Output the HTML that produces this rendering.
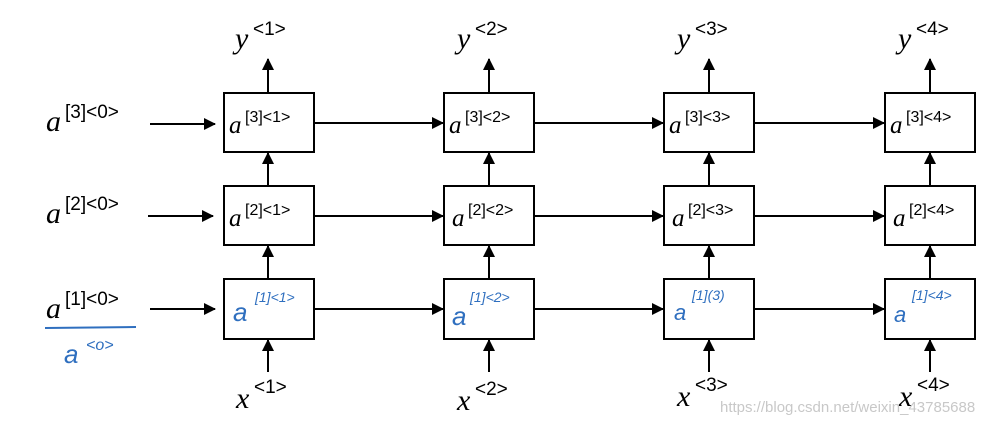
<!DOCTYPE html>
<html><head><meta charset="utf-8"><style>
html,body{margin:0;padding:0;background:#fff;width:1000px;height:424px;overflow:hidden}
.a{font-family:"Liberation Serif",serif;font-style:italic;font-size:30px}
.b{font-family:"Liberation Serif",serif;font-style:italic;font-size:25px}
.s{font-family:"Liberation Sans",sans-serif;font-size:19px}
.t{font-family:"Liberation Sans",sans-serif;font-size:16px}
.h{fill:#2f6fbf;font-family:"Liberation Sans",sans-serif;font-style:italic}
</style></head><body>
<svg width="1000" height="424" viewBox="0 0 1000 424" xmlns="http://www.w3.org/2000/svg">
<defs><marker id="m" markerWidth="12" markerHeight="12" refX="11" refY="6" orient="auto" markerUnits="userSpaceOnUse"><path d="M0,0 L12,6 L0,12 z" fill="#000"/></marker></defs>
<g stroke="#000" stroke-width="2" fill="none">
<rect x="224" y="93" width="90" height="59"/><rect x="224" y="186" width="90" height="59"/><rect x="224" y="279" width="90" height="60"/>
<rect x="444" y="93" width="90" height="59"/><rect x="444" y="186" width="90" height="59"/><rect x="444" y="279" width="90" height="60"/>
<rect x="664" y="93" width="90" height="59"/><rect x="664" y="186" width="90" height="59"/><rect x="664" y="279" width="90" height="60"/>
<rect x="885" y="93" width="90" height="59"/><rect x="885" y="186" width="90" height="59"/><rect x="885" y="279" width="90" height="60"/>
</g>
<g stroke="#000" stroke-width="2" marker-end="url(#m)">
<line x1="150" y1="124" x2="215" y2="124"/><line x1="148" y1="216" x2="213" y2="216"/><line x1="150" y1="309" x2="215" y2="309"/>
<line x1="314" y1="123" x2="443" y2="123"/><line x1="534" y1="123" x2="663" y2="123"/><line x1="754" y1="123" x2="884" y2="123"/>
<line x1="314" y1="216" x2="443" y2="216"/><line x1="534" y1="216" x2="663" y2="216"/><line x1="754" y1="216" x2="884" y2="216"/>
<line x1="314" y1="309" x2="443" y2="309"/><line x1="534" y1="309" x2="663" y2="309"/><line x1="754" y1="309" x2="884" y2="309"/>
<line x1="268" y1="93" x2="268" y2="59"/><line x1="489" y1="93" x2="489" y2="59"/><line x1="709" y1="93" x2="709" y2="59"/><line x1="930" y1="93" x2="930" y2="59"/>
<line x1="268" y1="186" x2="268" y2="153"/><line x1="489" y1="186" x2="489" y2="153"/><line x1="709" y1="186" x2="709" y2="153"/><line x1="930" y1="186" x2="930" y2="153"/>
<line x1="268" y1="279" x2="268" y2="246"/><line x1="489" y1="279" x2="489" y2="246"/><line x1="709" y1="279" x2="709" y2="246"/><line x1="930" y1="279" x2="930" y2="246"/>
<line x1="268" y1="372" x2="268" y2="340"/><line x1="489" y1="372" x2="489" y2="340"/><line x1="709" y1="372" x2="709" y2="340"/><line x1="930" y1="372" x2="930" y2="340"/>
</g>
<g>
<text x="235" y="48" class="a">y</text><text x="253" y="35" class="s">&lt;1&gt;</text>
<text x="457" y="48" class="a">y</text><text x="475" y="35" class="s">&lt;2&gt;</text>
<text x="677" y="48" class="a">y</text><text x="695" y="35" class="s">&lt;3&gt;</text>
<text x="898" y="48" class="a">y</text><text x="916" y="35" class="s">&lt;4&gt;</text>
<text x="46" y="131" class="a">a</text><text x="65" y="118" class="s">[3]&lt;0&gt;</text>
<text x="46" y="223" class="a">a</text><text x="65" y="210" class="s">[2]&lt;0&gt;</text>
<text x="46" y="318" class="a">a</text><text x="65" y="305" class="s">[1]&lt;0&gt;</text>
<text x="229" y="133" class="b">a</text><text x="245" y="122" class="t">[3]&lt;1&gt;</text>
<text x="449" y="133" class="b">a</text><text x="465" y="122" class="t">[3]&lt;2&gt;</text>
<text x="669" y="133" class="b">a</text><text x="685" y="122" class="t">[3]&lt;3&gt;</text>
<text x="890" y="133" class="b">a</text><text x="906" y="122" class="t">[3]&lt;4&gt;</text>
<text x="229" y="226" class="b">a</text><text x="245" y="215" class="t">[2]&lt;1&gt;</text>
<text x="452" y="226" class="b">a</text><text x="468" y="215" class="t">[2]&lt;2&gt;</text>
<text x="672" y="226" class="b">a</text><text x="688" y="215" class="t">[2]&lt;3&gt;</text>
<text x="893" y="226" class="b">a</text><text x="909" y="215" class="t">[2]&lt;4&gt;</text>
<text x="233" y="321" class="h" style="font-size:26px">a</text><text x="255" y="302" class="h" style="font-size:14px">[1]&lt;1&gt;</text>
<text x="452" y="325" class="h" style="font-size:26px">a</text><text x="470" y="302" class="h" style="font-size:14px">[1]&lt;2&gt;</text>
<text x="674" y="320" class="h" style="font-size:22px">a</text><text x="692" y="300" class="h" style="font-size:14px">[1](3)</text>
<text x="894" y="322" class="h" style="font-size:22px">a</text><text x="912" y="300" class="h" style="font-size:14px">[1]&lt;4&gt;</text>
<line x1="45" y1="328" x2="136" y2="327" stroke="#2f6fbf" stroke-width="2"/>
<text x="64" y="363" class="h" style="font-size:26px">a</text><text x="86" y="350" class="h" style="font-size:16px">&lt;o&gt;</text>
<text x="236" y="408" class="a">x</text><text x="254" y="393" class="s">&lt;1&gt;</text>
<text x="457" y="410" class="a">x</text><text x="475" y="395" class="s">&lt;2&gt;</text>
<text x="677" y="406" class="a">x</text><text x="695" y="391" class="s">&lt;3&gt;</text>
<text x="899" y="406" class="a">x</text><text x="917" y="391" class="s">&lt;4&gt;</text>
<text x="720" y="412" style="font-family:'Liberation Sans',sans-serif;font-size:15px;fill:#c8c8c8">https://blog.csdn.net/weixin_43785688</text>
</g>
</svg>
</body></html>
